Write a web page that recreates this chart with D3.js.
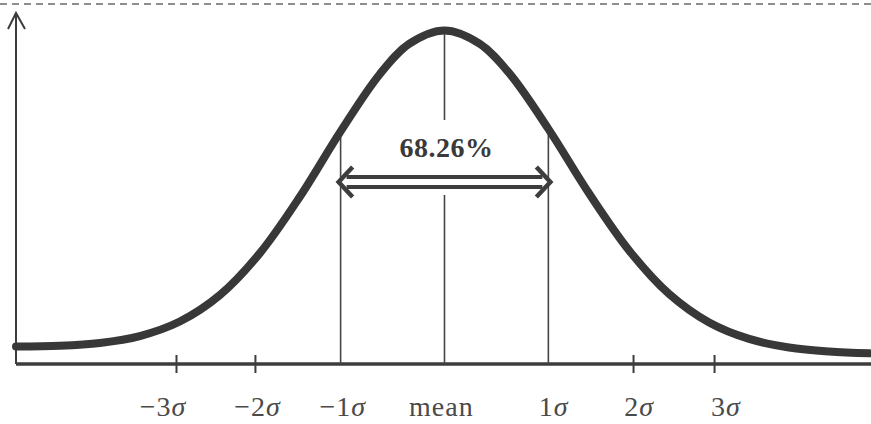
<!DOCTYPE html>
<html>
<head>
<meta charset="utf-8">
<script src="https://cdn.jsdelivr.net/npm/d3@7"></script>
<style>
  html, body { margin: 0; padding: 0; background: #fff; }
  svg { display: block; }
</style>
</head>
<body>
<svg id="chart" width="871" height="424"></svg>
<script>
// ---- data (x in sigma units, y = curve height) ----
const curveZ = [-4.125, -3.702, -3.317, -2.933, -2.548, -2.163, -1.779, -1.394, -1.0, -0.625, -0.337, 0,
                0.337, 0.625, 1.0, 1.394, 1.779, 2.163, 2.548, 2.933, 3.317, 3.702, 4.096];
const curveDensity = [0.0211, 0.0220, 0.0254, 0.0337, 0.0512, 0.0830, 0.1333, 0.2012, 0.2803, 0.3489, 0.3859, 0.4018,
                0.3859, 0.3501, 0.2833, 0.2051, 0.1365, 0.0843, 0.0500, 0.0302, 0.0199, 0.0151, 0.0129];
const tickValues = [-2.58, -1.82, 1.82, 2.60];          // small tick marks on the axis
const labelValues = [-2.71, -1.80, -0.98, -0.03, 1.05, 1.875, 2.71];
const labelTexts = [["−3", "σ"], ["−2", "σ"], ["−1", "σ"], ["mean", ""], ["1", "σ"], ["2", "σ"], ["3", "σ"]];
const bandLimits = [-1, 1];
const bandLabel = "68.26%";

// ---- layout ----
const W = 871, H = 424;
const svg = d3.select("#chart");
const x = d3.scaleLinear().domain([-4.125, 4.106]).range([16, 871]);
const y = d3.scaleLinear().domain([0, 0.4]).range([364, 32]);
const ink = "#3d3d3d";

// top dashed line
svg.append("line").attr("x1", 0).attr("x2", W).attr("y1", 4).attr("y2", 4)
  .attr("stroke", "#6a6a6a").attr("stroke-width", 1.5).attr("stroke-dasharray", "7,5");

// y axis with open arrow
svg.append("line").attr("x1", 16).attr("x2", 16).attr("y1", 14).attr("y2", y(0))
  .attr("stroke", ink).attr("stroke-width", 2);
svg.append("path").attr("d", "M8,29 L16,13 L25,29").attr("fill", "none")
  .attr("stroke", ink).attr("stroke-width", 2);

// baseline
svg.append("line").attr("x1", 16).attr("x2", W).attr("y1", y(0)).attr("y2", y(0))
  .attr("stroke", ink).attr("stroke-width", 3.5);

// ticks
svg.selectAll("line.tick").data(tickValues).join("line").attr("class", "tick")
  .attr("x1", d => x(d)).attr("x2", d => x(d)).attr("y1", y(0) - 9).attr("y2", y(0) + 9)
  .attr("stroke", ink).attr("stroke-width", 2);

// density lookup for the vertical lines
const densAt = z => curveDensity[curveZ.indexOf(z)];

// vertical lines at -1 sigma and +1 sigma
svg.selectAll("line.band").data(bandLimits).join("line").attr("class", "band")
  .attr("x1", d => x(d)).attr("x2", d => x(d)).attr("y1", d => y(densAt(d))).attr("y2", y(0))
  .attr("stroke", "#454545").attr("stroke-width", 1.6);

// mean line (broken around the label)
const meanX = x(0);
svg.append("line").attr("x1", meanX).attr("x2", meanX).attr("y1", y(densAt(0))).attr("y2", 120)
  .attr("stroke", "#454545").attr("stroke-width", 1.6);
svg.append("line").attr("x1", meanX).attr("x2", meanX).attr("y1", 195).attr("y2", y(0))
  .attr("stroke", "#454545").attr("stroke-width", 1.6);

// curve
const line = d3.line().x((d, i) => x(curveZ[i])).y(d => y(d)).curve(d3.curveCatmullRom.alpha(0.5));
svg.append("path").datum(curveDensity).attr("d", line).attr("fill", "none")
  .attr("stroke", "#383838").attr("stroke-width", 8).attr("stroke-linecap", "round");

// double arrow
const ay = 182, xl = x(bandLimits[0]) - 2, xr = x(bandLimits[1]) + 2;
[ay - 5, ay + 5].forEach(yy => {
  svg.append("line").attr("x1", xl + 8).attr("x2", xr - 8).attr("y1", yy).attr("y2", yy)
    .attr("stroke", ink).attr("stroke-width", 3.8);
});
svg.append("path").attr("d", `M${xl + 14},${ay - 15} L${xl},${ay} L${xl + 14},${ay + 15}`)
  .attr("fill", "none").attr("stroke", ink).attr("stroke-width", 4.5).attr("stroke-linejoin", "miter");
svg.append("path").attr("d", `M${xr - 14},${ay - 15} L${xr},${ay} L${xr - 14},${ay + 15}`)
  .attr("fill", "none").attr("stroke", ink).attr("stroke-width", 4.5).attr("stroke-linejoin", "miter");

// band label
svg.append("text").attr("x", meanX + 2).attr("y", 157).attr("text-anchor", "middle")
  .attr("font-family", "'Liberation Serif', 'Times New Roman', serif").attr("font-weight", "bold")
  .attr("font-size", 28).attr("fill", "#3a3a3a").attr("letter-spacing", 0.5).text(bandLabel);

// tick labels
const lab = svg.selectAll("text.lab").data(labelValues).join("text").attr("class", "lab")
  .attr("x", d => x(d)).attr("y", 416).attr("text-anchor", "middle")
  .attr("font-family", "'Liberation Serif', 'Times New Roman', serif")
  .attr("font-size", 28).attr("letter-spacing", 1).attr("fill", "#4a4a4a");
lab.each(function(d, i) {
  const t = d3.select(this);
  t.append("tspan").text(labelTexts[i][0]);
  if (labelTexts[i][1]) t.append("tspan").attr("font-style", "italic").text(labelTexts[i][1]);
});
</script>
</body>
</html>
